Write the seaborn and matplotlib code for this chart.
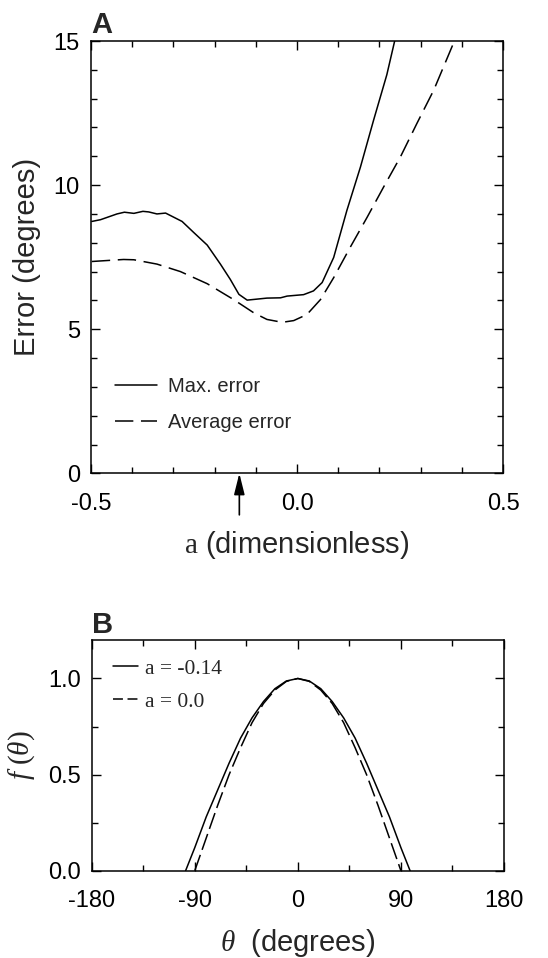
import numpy as np
import pandas as pd
import matplotlib
matplotlib.use('Agg')
import matplotlib.pyplot as plt
from matplotlib.ticker import MultipleLocator, FormatStrFormatter
import seaborn as sns

# panel A: error vs parameter a
a_max = [-0.498, -0.477, -0.437, -0.419, -0.396, -0.374, -0.360, -0.340, -0.319,
         -0.279, -0.251, -0.218, -0.186, -0.162, -0.141, -0.121, -0.073, -0.040,
         -0.024, 0.016, 0.040, 0.061, 0.089, 0.121, 0.154, 0.186, 0.218, 0.237]
max_err = [8.74, 8.80, 9.00, 9.06, 9.02, 9.09, 9.07, 9.00, 9.03,
           8.74, 8.36, 7.92, 7.26, 6.73, 6.21, 6.01, 6.08, 6.09,
           6.15, 6.20, 6.33, 6.62, 7.49, 9.12, 10.63, 12.26, 13.83, 15.0]

a_avg = [-0.498, -0.421, -0.396, -0.340, -0.283, -0.218, -0.154, -0.105, -0.073,
         -0.036, -0.008, 0.024, 0.057, 0.089, 0.129, 0.170, 0.210, 0.251,
         0.291, 0.332, 0.382]
avg_err = [7.35, 7.42, 7.41, 7.26, 7.00, 6.58, 6.03, 5.57, 5.34,
           5.24, 5.30, 5.51, 6.03, 6.79, 7.84, 8.88, 9.93, 10.98,
           12.14, 13.30, 15.0]

best_a = -0.14

# panel B: weighting function f(theta)
theta_a014 = [-98, -90, -80, -70, -60, -50, -40, -30, -20, -10, 0,
              10, 20, 30, 40, 50, 60, 70, 80, 90, 98]
f_a014 = [0.0, 0.12, 0.28, 0.42, 0.56, 0.69, 0.795, 0.88, 0.947, 0.987, 1.0,
          0.987, 0.947, 0.88, 0.795, 0.69, 0.56, 0.42, 0.28, 0.12, 0.0]
theta_a0 = [-90, -80, -70, -60, -50, -40, -30, -20, -10, 0,
            10, 20, 30, 40, 50, 60, 70, 80, 90]
f_a0 = [0.0, 0.17, 0.34, 0.50, 0.64, 0.77, 0.87, 0.94, 0.985, 1.0,
        0.985, 0.94, 0.87, 0.77, 0.64, 0.50, 0.34, 0.17, 0.0]

sns.set_style('ticks')
plt.rcParams['font.family'] = ['Liberation Sans', 'DejaVu Sans']
plt.rcParams['axes.unicode_minus'] = False
plt.rcParams['mathtext.fontset'] = 'custom'
plt.rcParams['mathtext.rm'] = 'Liberation Serif'
plt.rcParams['mathtext.it'] = 'Liberation Serif:italic'
plt.rcParams['axes.edgecolor'] = 'black'
plt.rcParams['axes.linewidth'] = 1.1

fig = plt.figure(figsize=(5.48, 9.58), dpi=100)
ax1 = fig.add_axes([0.1661, 0.5059, 0.7518, 0.4513])
ax2 = fig.add_axes([0.1673, 0.0911, 0.7524, 0.2408])


def style_ticks(ax, xpad, ypad):
    ax.tick_params(which='both', direction='in', top=True, right=True,
                   colors='black', width=1.0, labelsize=17)
    ax.tick_params(which='major', length=6.5)
    ax.tick_params(which='minor', length=4)
    ax.tick_params(axis='x', which='major', pad=xpad)
    ax.tick_params(axis='y', which='major', pad=ypad)


# ---- panel A
sns.lineplot(x=a_max, y=max_err, ax=ax1, color='black', lw=1.1,
             errorbar=None, label='Max. error')
sns.lineplot(x=a_avg, y=avg_err, ax=ax1, color='black', lw=1.1,
             errorbar=None, linestyle=(0, (12, 5)), label='Average error')
ax1.set_xlim(-0.5, 0.5)
ax1.set_ylim(0, 15)
ax1.xaxis.set_major_locator(MultipleLocator(0.5))
ax1.xaxis.set_minor_locator(MultipleLocator(0.1))
ax1.xaxis.set_major_formatter(FormatStrFormatter('%.1f'))
ax1.yaxis.set_major_locator(MultipleLocator(5))
ax1.yaxis.set_minor_locator(MultipleLocator(1))
style_ticks(ax1, 14, 8)
ax1.set_xlabel(r'$\mathrm{a}$ (dimensionless)', fontsize=21, va='center')
ax1.xaxis.set_label_coords(0.5, -0.166)
ax1.set_ylabel('Error (degrees)', fontsize=21, va='center')
ax1.yaxis.set_label_coords(-0.155, 0.5)
ax1.text(0.0, 1.018, 'A', transform=ax1.transAxes, fontsize=21,
         fontweight='bold', ha='left', va='baseline')
ax1.annotate('', xy=(best_a, 0), xycoords=('data', 'axes fraction'),
             xytext=(best_a, -0.096), textcoords=('data', 'axes fraction'),
             arrowprops=dict(arrowstyle='-|>,head_length=0.8,head_width=0.2',
                             color='black', lw=1.2, shrinkA=0, shrinkB=0,
                             mutation_scale=16),
             annotation_clip=False)
h, l = ax1.get_legend_handles_labels()
ax1.legend(h, l, loc='upper left', bbox_to_anchor=(0.058, 0.223),
           frameon=False, fontsize=14.5, borderpad=0, borderaxespad=0,
           handlelength=2.1, handletextpad=0.55, labelspacing=0.85)

# ---- panel B
sns.lineplot(x=theta_a014, y=f_a014, ax=ax2, color='black', lw=1.1,
             errorbar=None, label='a = -0.14')
sns.lineplot(x=theta_a0, y=f_a0, ax=ax2, color='black', lw=1.1,
             errorbar=None, linestyle=(0, (11, 3.5)), label='a = 0.0')
ax2.set_xlim(-180, 180)
ax2.set_ylim(0, 1.2)
ax2.xaxis.set_major_locator(MultipleLocator(90))
ax2.xaxis.set_minor_locator(MultipleLocator(45))
ax2.yaxis.set_major_locator(MultipleLocator(0.5))
ax2.yaxis.set_minor_locator(MultipleLocator(0.25))
ax2.yaxis.set_major_formatter(FormatStrFormatter('%.1f'))
style_ticks(ax2, 14, 8)
ax2.set_xlabel(r'$\theta$  (degrees)', fontsize=21, va='center')
ax2.xaxis.set_label_coords(0.5, -0.313)
ax2.set_ylabel(r'$f\ (\theta)$', fontsize=21, va='center')
ax2.yaxis.set_label_coords(-0.169, 0.5)
ax2.text(0.0, 1.03, 'B', transform=ax2.transAxes, fontsize=21,
         fontweight='bold', ha='left', va='baseline')
h, l = ax2.get_legend_handles_labels()
leg = ax2.legend(h, l, loc='upper left', bbox_to_anchor=(0.052, 0.92),
                 frameon=False, prop={'family': 'Liberation Serif', 'size': 15.5},
                 borderpad=0, borderaxespad=0, handlelength=1.15,
                 handletextpad=0.35, labelspacing=0.6)
leg.get_lines()[1].set_linestyle((0, (6.5, 3)))

fig.savefig('out.png', dpi=100)
